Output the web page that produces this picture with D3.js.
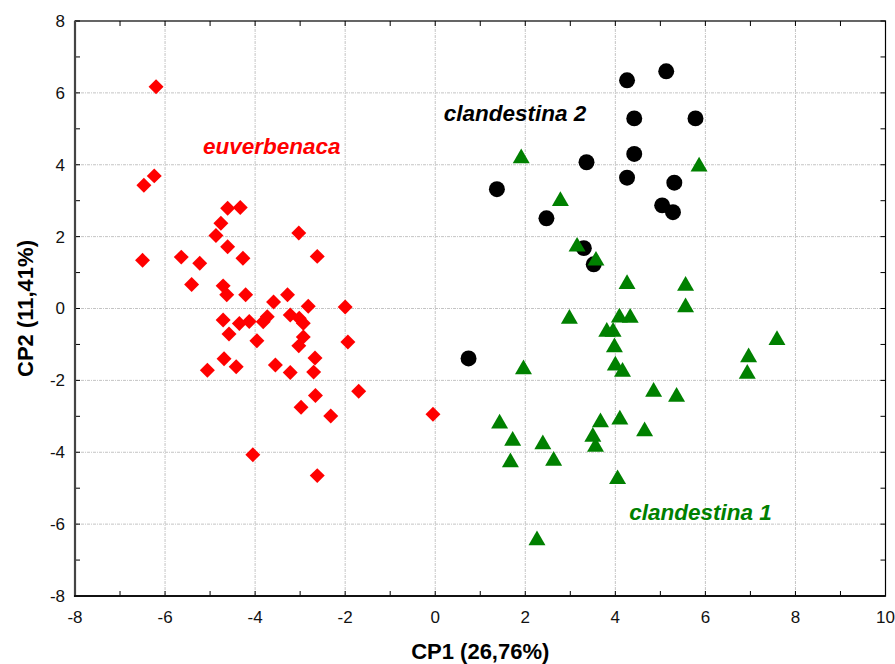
<!DOCTYPE html>
<html>
<head>
<meta charset="utf-8">
<script src="https://cdn.jsdelivr.net/npm/d3@7"></script>
<style>
  body { margin: 0; background: #fff; }
  svg { display: block; font-family: Arial, "Liberation Sans", sans-serif; }
</style>
</head>
<body>
<script>
const width = 895;
const height = 664;
const margin = { top: 21, right: 9.5, bottom: 68, left: 75 };

// euverbenaca (red diamonds): [CP1, CP2]
const euverbenaca = [
  [-6.20, 6.17], [-6.47, 3.43], [-6.24, 3.69], [-6.50, 1.34], [-5.64, 1.43],
  [-5.23, 1.26], [-5.41, 0.67], [-4.61, 2.79], [-4.33, 2.81], [-4.76, 2.37],
  [-4.87, 2.03], [-4.61, 1.72], [-4.27, 1.40], [-4.71, 0.63], [-4.63, 0.38],
  [-4.21, 0.38], [-4.71, -0.32], [-4.35, -0.42], [-4.13, -0.36], [-4.58, -0.71],
  [-3.96, -0.90], [-4.69, -1.40], [-4.42, -1.62], [-5.06, -1.72], [-3.03, 2.10],
  [-2.62, 1.45], [-3.28, 0.38], [-3.59, 0.18], [-2.82, 0.06], [-2.00, 0.04],
  [-3.73, -0.23], [-3.82, -0.37], [-3.22, -0.18], [-3.02, -0.27], [-2.93, -0.41],
  [-2.93, -0.79], [-3.03, -1.04], [-1.94, -0.93], [-2.67, -1.38], [-3.55, -1.57],
  [-3.22, -1.78], [-2.70, -1.77], [-2.66, -2.42], [-1.70, -2.30], [-2.98, -2.75],
  [-2.32, -2.99], [-0.05, -2.94], [-4.05, -4.07], [-2.62, -4.65]
];

// clandestina 2 (black circles)
const clandestina2 = [
  [4.26, 6.35], [5.13, 6.60], [4.42, 5.29], [5.78, 5.29], [4.42, 4.30],
  [3.36, 4.07], [1.37, 3.32], [4.26, 3.64], [5.31, 3.50], [5.04, 2.87],
  [5.28, 2.68], [2.47, 2.51], [3.30, 1.68], [3.52, 1.23], [0.74, -1.39]
];

// clandestina 1 (green triangles)
const clandestina1 = [
  [1.91, 4.18], [2.78, 2.99], [3.15, 1.72], [3.57, 1.33], [5.86, 3.95],
  [4.26, 0.68], [5.56, 0.63], [5.56, 0.03], [2.98, -0.29], [4.09, -0.25],
  [4.33, -0.26], [3.81, -0.65], [3.95, -0.65], [3.98, -1.08], [7.59, -0.88],
  [6.96, -1.36], [6.93, -1.82], [1.96, -1.69], [4.00, -1.59], [4.16, -1.76],
  [4.85, -2.32], [5.36, -2.46], [1.43, -3.20], [3.67, -3.17], [4.10, -3.09],
  [1.72, -3.68], [3.50, -3.57], [3.56, -3.85], [4.65, -3.42], [2.39, -3.78],
  [1.67, -4.28], [2.63, -4.24], [4.05, -4.75], [2.26, -6.45]
];

const xTicks = [-8, -6, -4, -2, 0, 2, 4, 6, 8, 10];
const yTicks = [-8, -6, -4, -2, 0, 2, 4, 6, 8];
const minorX = d3.range(-8, 11, 1);
const minorY = d3.range(-8, 9, 1);

const labels = [
  { text: "euverbenaca", x: -3.63, y: 4.53, color: "#ff0000" },
  { text: "clandestina 2", x: 1.77, y: 5.45, color: "#000000" },
  { text: "clandestina 1", x: 5.89, y: -5.67, color: "#008000" }
];

const x = d3.scaleLinear().domain([-8, 10]).range([margin.left, width - margin.right]);
const y = d3.scaleLinear().domain([-8, 8]).range([height - margin.bottom, margin.top]);

const svg = d3.select("body").append("svg")
  .attr("width", width)
  .attr("height", height);

// grid
svg.append("g").selectAll("line")
  .data(xTicks.slice(1, -1))
  .join("line")
  .attr("x1", d => x(d)).attr("x2", d => x(d))
  .attr("y1", y(-8)).attr("y2", y(8))
  .attr("stroke", "#c4c4c4")
  .attr("stroke-dasharray", "3,1,1,1");

svg.append("g").selectAll("line")
  .data(yTicks.slice(1, -1))
  .join("line")
  .attr("x1", x(-8)).attr("x2", x(10))
  .attr("y1", d => y(d)).attr("y2", d => y(d))
  .attr("stroke", "#c4c4c4")
  .attr("stroke-dasharray", "3,1,1,1");

// frame
svg.append("rect")
  .attr("x", x(-8)).attr("y", y(8))
  .attr("width", x(10) - x(-8))
  .attr("height", y(-8) - y(8))
  .attr("fill", "none")
  .attr("stroke", "#000")
  .attr("stroke-width", 1.2);

// inner ticks on all sides
const tk = 5;
const ticksG = svg.append("g").attr("stroke", "#000").attr("stroke-width", 1);
minorX.forEach(v => {
  ticksG.append("line").attr("x1", x(v)).attr("x2", x(v)).attr("y1", y(-8)).attr("y2", y(-8) - tk);
  ticksG.append("line").attr("x1", x(v)).attr("x2", x(v)).attr("y1", y(8)).attr("y2", y(8) + tk);
});
minorY.forEach(v => {
  ticksG.append("line").attr("y1", y(v)).attr("y2", y(v)).attr("x1", x(-8)).attr("x2", x(-8) + tk);
  ticksG.append("line").attr("y1", y(v)).attr("y2", y(v)).attr("x1", x(10)).attr("x2", x(10) - tk);
});

// thicker left and bottom axis lines
svg.append("line")
  .attr("x1", x(-8)).attr("x2", x(-8)).attr("y1", y(8)).attr("y2", y(-8) + 1)
  .attr("stroke", "#444").attr("stroke-width", 2.2);
svg.append("line")
  .attr("x1", x(-8) - 1).attr("x2", x(10)).attr("y1", y(-8)).attr("y2", y(-8))
  .attr("stroke", "#111").attr("stroke-width", 2.2);

// tick labels
svg.append("g").selectAll("text")
  .data(xTicks)
  .join("text")
  .attr("x", d => x(d))
  .attr("y", y(-8) + 27)
  .attr("text-anchor", "middle")
  .attr("font-size", 17)
  .attr("fill", "#111")
  .text(d => d);

svg.append("g").selectAll("text")
  .data(yTicks)
  .join("text")
  .attr("x", x(-8) - 10)
  .attr("y", d => y(d))
  .attr("dy", "0.35em")
  .attr("text-anchor", "end")
  .attr("font-size", 17)
  .attr("fill", "#111")
  .text(d => d);

// axis titles
svg.append("text")
  .attr("x", (x(-8) + x(10)) / 2)
  .attr("y", 659)
  .attr("text-anchor", "middle")
  .attr("font-size", 22)
  .attr("font-weight", "bold")
  .text("CP1 (26,76%)");

svg.append("text")
  .attr("transform", `translate(33, ${y(0)}) rotate(-90)`)
  .attr("text-anchor", "middle")
  .attr("font-size", 22)
  .attr("font-weight", "bold")
  .text("CP2 (11,41%)");

// points
const diamond = d3.symbol().type(d3.symbolSquare).size(112);
const circle = d3.symbol().type(d3.symbolCircle).size(200);
const triangle = d3.symbol().type(d3.symbolTriangle).size(125);

svg.append("g").selectAll("path")
  .data(euverbenaca)
  .join("path")
  .attr("d", diamond)
  .attr("transform", d => `translate(${x(d[0])},${y(d[1])}) rotate(45)`)
  .attr("fill", "#ff0000");

svg.append("g").selectAll("path")
  .data(clandestina2)
  .join("path")
  .attr("d", circle)
  .attr("transform", d => `translate(${x(d[0])},${y(d[1])})`)
  .attr("fill", "#000");

svg.append("g").selectAll("path")
  .data(clandestina1)
  .join("path")
  .attr("d", triangle)
  .attr("transform", d => `translate(${x(d[0])},${y(d[1])})`)
  .attr("fill", "#008000");

// group labels
svg.append("g").selectAll("text")
  .data(labels)
  .join("text")
  .attr("x", d => x(d.x))
  .attr("y", d => y(d.y))
  .attr("dy", "0.35em")
  .attr("text-anchor", "middle")
  .attr("font-size", 22.5)
  .attr("font-weight", "bold")
  .attr("font-style", "italic")
  .attr("fill", d => d.color)
  .text(d => d.text);
</script>
</body>
</html>
